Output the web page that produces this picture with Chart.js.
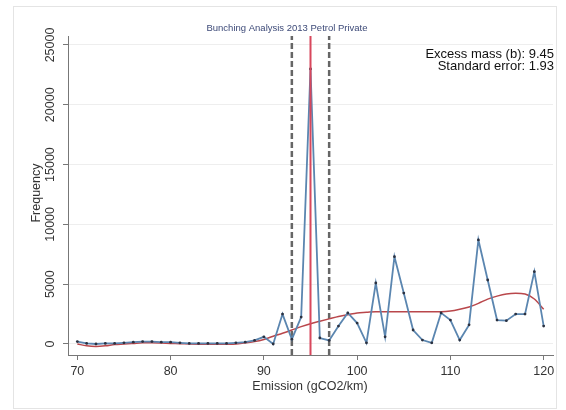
<!DOCTYPE html>
<html>
<head>
<meta charset="utf-8">
<script src="https://cdn.jsdelivr.net/npm/chart.js@4.4.0/dist/chart.umd.min.js"></script>
<style>
html, body { margin: 0; padding: 0; background: #fff; }
#wrap { position: relative; width: 566px; height: 410px; }
#frame { position: absolute; left: 13px; top: 6px; width: 542px; height: 401px; border: 1px solid #e4e4e4; }
canvas { position: absolute; left: 0; top: 0; }
</style>
</head>
<body>
<div id="wrap"><div id="frame"></div><canvas id="c" width="566" height="410"></canvas></div>
<script>
const emission = [70, 71, 72, 73, 74, 75, 76, 77, 78, 79,
    80, 81, 82, 83, 84, 85, 86, 87, 88, 89,
    90, 91, 92, 93, 94, 95, 96, 97, 98, 99,
    100, 101, 102, 103, 104, 105, 106, 107, 108, 109,
    110, 111, 112, 113, 114, 115, 116, 117, 118, 119, 120];
const frequency = [200, 50, 0, 50, 50, 100, 150, 200, 200, 150,
    150, 100, 50, 50, 50, 50, 50, 100, 150, 300,
    600, 0, 2500, 400, 2250, 23000, 500, 300, 1500, 2600,
    1750, 100, 5100, 600, 7300, 4260, 1170, 330, 100, 2600,
    2000, 330, 1600, 8700, 5350, 2000, 1950, 2500, 2500, 6050, 1500];
const counterfactual = [0, -150, -200, -150, -50, 0, 50, 100, 100, 80,
    50, 30, 0, -20, -30, -30, -20, 0, 100, 200,
    380, 650, 900, 1170, 1450, 1700, 1900, 2100, 2300, 2450,
    2600, 2650, 2700, 2700, 2700, 2700, 2700, 2700, 2700, 2700,
    2750, 2900, 3100, 3400, 3750, 4000, 4180, 4240, 4180, 3760, 2900];
const bunchingBounds = [93, 97];
const threshold = 95;
const xTicks = [70, 80, 90, 100, 110, 120];
const yTicks = [0, 5000, 10000, 15000, 20000, 25000];
const titleText = 'Bunching Analysis 2013 Petrol Private';
const statLines = ['Excess mass (b): 9.45', 'Standard error: 1.93'];

const yMin = -920, yMax = 25750;
const FONT = '"Liberation Sans", Arial, sans-serif';

function vline(x) {
    return [{ x: x, y: yMin }, { x: x, y: yMax }];
}

const textPlugin = {
    id: 'texts',
    afterDraw(chart) {
        const ctx = chart.ctx;
        const ys = chart.scales.y;
        ctx.save();
        // title
        ctx.fillStyle = '#3d4a78';
        ctx.font = '9.5px ' + FONT;
        ctx.textAlign = 'center';
        ctx.textBaseline = 'middle';
        ctx.fillText(titleText, 287, 28);
        // stats text
        ctx.fillStyle = '#111';
        ctx.font = '13px ' + FONT;
        ctx.textAlign = 'right';
        ctx.fillText(statLines[0], 554, 54);
        ctx.fillText(statLines[1], 554, 66);
        // y tick labels, rotated like Stata
        ctx.fillStyle = '#333';
        ctx.font = '12.5px ' + FONT;
        ctx.textAlign = 'center';
        yTicks.forEach(v => {
            const py = ys.getPixelForValue(v);
            ctx.save();
            ctx.translate(51, py);
            ctx.rotate(-Math.PI / 2);
            ctx.fillText(String(v), 0, 0);
            ctx.restore();
        });
        // y title
        ctx.save();
        ctx.translate(37, 193);
        ctx.rotate(-Math.PI / 2);
        ctx.fillText('Frequency', 0, 0);
        ctx.restore();
        // x title
        ctx.fillText('Emission (gCO2/km)', 310, 387);
        ctx.restore();
    }
};

new Chart(document.getElementById('c'), {
    type: 'line',
    data: {
        datasets: [
            {
                data: vline(threshold),
                borderColor: '#d8475c',
                borderWidth: 2,
                pointRadius: 0
            },
            {
                data: emission.map((x, i) => ({ x: x, y: frequency[i] })),
                borderColor: '#5b86b0',
                borderWidth: 1.8,
                pointRadius: 1.4,
                pointBackgroundColor: '#2b3140',
                pointBorderWidth: 0
            },
            {
                data: emission.map((x, i) => ({ x: x, y: counterfactual[i] })),
                borderColor: '#b9474b',
                borderWidth: 1.5,
                pointRadius: 0,
                cubicInterpolationMode: 'monotone'
            },
            {
                data: vline(bunchingBounds[0]),
                borderColor: '#666',
                borderWidth: 2.5,
                borderDash: [6, 3],
                pointRadius: 0
            },
            {
                data: vline(bunchingBounds[1]),
                borderColor: '#666',
                borderWidth: 2.5,
                borderDash: [6, 3],
                pointRadius: 0
            }
        ]
    },
    options: {
        responsive: false,
        animation: false,
        layout: { padding: { top: 36, right: 13, left: 0, bottom: 0 } },
        plugins: {
            legend: { display: false },
            tooltip: { enabled: false }
        },
        scales: {
            x: {
                type: 'linear',
                min: 69,
                max: 121,
                afterBuildTicks: s => { s.ticks = xTicks.map(v => ({ value: v })); },
                afterFit: s => { s.height = 55; },
                grid: { drawOnChartArea: false, tickLength: 5, color: '#777' },
                border: { color: '#777' },
                ticks: { color: '#333', font: { size: 12.5, family: FONT }, padding: 4, maxRotation: 0 }
            },
            y: {
                min: yMin,
                max: yMax,
                afterBuildTicks: s => { s.ticks = yTicks.map(v => ({ value: v })); },
                afterFit: s => { s.width = 68; },
                grid: { color: '#eeeeee', tickColor: '#777', tickLength: 5 },
                border: { color: '#777' },
                ticks: { display: false }
            }
        }
    },
    plugins: [textPlugin]
});
</script>
</body>
</html>
